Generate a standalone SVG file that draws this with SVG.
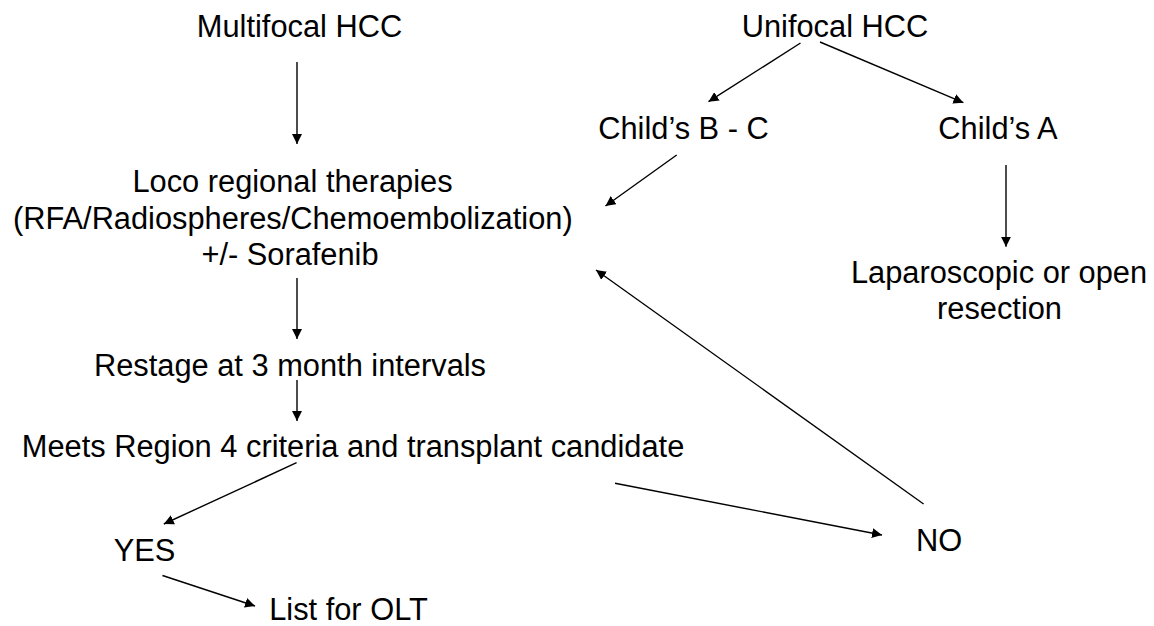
<svg xmlns="http://www.w3.org/2000/svg" width="1154" height="626" viewBox="0 0 1154 626">
<style>
  text { font-family: "Liberation Sans", Arial, sans-serif; font-size: 30.8px; fill: #000; text-anchor: middle; }
  .c { stroke: #000; stroke-width: 1.4; fill: none; marker-end: url(#ah); }
  .p { stroke: #000; stroke-width: 1.4; fill: none; }
</style>
<defs>
  <marker id="ah" markerUnits="userSpaceOnUse" viewBox="0 0 10 10" markerWidth="10" markerHeight="10" refX="10" refY="5" orient="auto">
    <path d="M0,0 L10,5 L0,10 z" fill="#000"/>
  </marker>
</defs>
<rect width="1154" height="626" fill="#fff"/>
<g id="connectors">
  <line class="c" x1="297" y1="62" x2="297" y2="144"/>
  <line class="c" x1="297" y1="278" x2="297" y2="339"/>
  <line class="c" x1="297" y1="380" x2="297" y2="421"/>
  <line class="c" x1="800.5" y1="43" x2="708.5" y2="101.7"/>
  <line class="c" x1="820" y1="42" x2="963.4" y2="102.7"/>
  <line class="c" x1="676.7" y1="155" x2="605.5" y2="206"/>
  <line class="c" x1="1006" y1="165" x2="1006" y2="246.7"/>
  <line class="c" x1="923.6" y1="504" x2="596" y2="270"/>
  <line class="c" x1="296.6" y1="462.7" x2="163.8" y2="524"/>
  <line class="c" x1="615" y1="483.3" x2="882" y2="535"/>
  <line class="c" x1="162.5" y1="575.5" x2="255" y2="606"/>
</g>
<g id="multifocal"><text x="299.5" y="37">Multifocal HCC</text></g>
<g id="unifocal"><text x="835" y="37">Unifocal HCC</text></g>
<g id="childs-bc"><text x="683.5" y="139">Child’s B - C</text></g>
<g id="childs-a"><text x="998" y="139">Child’s A</text></g>
<g id="locoregional">
  <text x="292.5" y="192">Loco regional therapies</text>
  <text x="292.8" y="229">(RFA/Radiospheres/Chemoembolization)</text>
  <text x="290" y="265">+/- Sorafenib</text>
</g>
<g id="resection">
  <text x="999" y="283">Laparoscopic or open</text>
  <text x="999.5" y="319">resection</text>
</g>
<g id="restage"><text x="290" y="376">Restage at 3 month intervals</text></g>
<g id="meets"><text x="353" y="457">Meets Region 4 criteria and transplant candidate</text></g>
<g id="yes"><text x="144.5" y="561">YES</text></g>
<g id="no"><text x="939" y="551">NO</text></g>
<g id="list-olt"><text x="348.5" y="620">List for OLT</text></g>
</svg>
